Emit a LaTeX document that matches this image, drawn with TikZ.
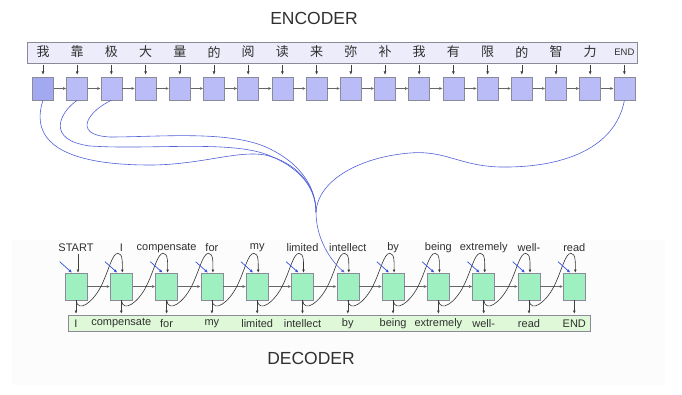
\documentclass[tikz,border=0pt]{standalone}
\usepackage{fontspec}
\setmainfont{Liberation Sans}
\newfontfamily\cjk{Noto Sans CJK SC}
\usetikzlibrary{arrows.meta,calc}
\definecolor{enccell}{HTML}{B9BCF6}
\definecolor{enccellA}{HTML}{A2A9F0}
\definecolor{inboxfill}{HTML}{ECECFA}
\definecolor{deccell}{HTML}{9EF0C0}
\definecolor{outfill}{HTML}{DFF9D8}
\definecolor{bordergray}{HTML}{8A8A98}
\definecolor{attn}{HTML}{3050E0}
\definecolor{attnline}{HTML}{5060D8}
\definecolor{txt}{HTML}{303030}
\tikzset{
  enccellstyle/.style={draw=bordergray, fill=enccell, minimum width=21pt, minimum height=23pt, inner sep=0pt, line width=0.6pt},
  deccellstyle/.style={draw=bordergray, fill=deccell, minimum width=22pt, minimum height=27pt, inner sep=0pt, line width=0.6pt},
  boxstyle/.style={draw=bordergray, inner sep=0pt, line width=0.6pt},
  lbl/.style={font=\fontsize{11}{13}\selectfont, text=txt, inner sep=1pt},
  zh/.style={font=\cjk\fontsize{13}{15}\selectfont, text=txt, inner sep=0pt},
  title/.style={font=\fontsize{17.5}{20}\selectfont, text=txt},
  tip/.style={-{Latex[length=3.2pt,width=2.8pt]}},
  harr/.style={tip, draw=black!60, line width=0.5pt},
  varr/.style={tip, draw=black!75, line width=0.5pt},
  fb/.style={tip, draw=black!80, line width=0.6pt},
  attnarr/.style={-{Latex[length=3.5pt,width=3pt]}, draw=attn, line width=0.7pt},
  attncurve/.style={draw=attnline, line width=0.6pt},
}
\begin{document}
\begin{tikzpicture}[x=1pt,y=-1pt]
\useasboundingbox (0,0) rectangle (682,395);
\fill[black!1] (12,240) rectangle (665,385);
% titles
\node[title] (enc) at (314,18) {ENCODER};
\node[title] (dec) at (311,358) {DECODER};
% encoder input box
\node[boxstyle, fill=inboxfill, minimum width=610pt, minimum height=21pt] (inbox) at (332,52.5) {};
\foreach \ch [count=\i] in {我,靠,极,大,量,的,阅,读,来,弥,补,我,有,限,的,智,力} {
  \pgfmathsetmacro\xx{43+34.2*(\i-1)}
  \node[zh] (c\i) at (\xx,52) {\ch};
}
\node[lbl, font=\fontsize{9.5}{11}\selectfont] (c18) at (624.4,52) {END};
% encoder cells
\foreach \i in {1,...,18} {
  \pgfmathsetmacro\xx{43+34.2*(\i-1)}
  \ifnum\i=1
    \node[enccellstyle, fill=enccellA] (e\i) at (\xx,88.5) {};
  \else
    \node[enccellstyle] (e\i) at (\xx,88.5) {};
  \fi
  \draw[varr, shorten <=1.5pt, shorten >=2pt] (inbox.south -| e\i) -- (e\i.north);
}
\foreach \i [evaluate=\i as \j using int(\i+1)] in {1,...,17} {
  \draw[harr] (e\i.east) -- (e\j.west);
}
% decoder cells
\foreach \w [count=\i] in {START,I,compensate,for,my,limited,intellect,by,being,extremely,well-,read} {
  \pgfmathsetmacro\xx{76+45.3*(\i-1)}
  \node[deccellstyle] (d\i) at (\xx,286.5) {};
  \node[lbl] (t\i) at (\xx,248) {\w};
}
% output box
\node[boxstyle, fill=outfill, minimum width=522pt, minimum height=16pt] (outbox) at (329,323) {};
\foreach \w [count=\i] in {I,compensate,for,my,limited,intellect,by,being,extremely,well-,read,END} {
  \pgfmathsetmacro\xx{76+45.3*(\i-1)}
  \node[lbl] (o\i) at (\xx,323.5) {\w};
  \draw[varr, shorten >=1pt] (d\i.south) -- (outbox.north -| d\i);
}
% horizontal decoder arrows
\foreach \i [evaluate=\i as \j using int(\i+1)] in {1,...,11} {
  \draw[harr] (d\i.east) -- (d\j.west);
}
% START input
\draw[varr, shorten <=1pt] (t1.south -| d1.north) ++(2,0) -- ($(d1.north)+(2,0)$);
% feedback curves
\foreach \i [evaluate=\i as \j using int(\i+1)] in {1,...,11} {
  \draw[fb] (d\i.south) .. controls +(2,13) and +(-8,16) .. ++(25,-14)
     .. controls +(8,-16) and +(-6,0) .. ++(17,-33)
     .. controls +(5,0) and +(0,-9) .. ($(d\j.north)+(1,0)$);
}
% short attention arrows
\foreach \i in {1,2,3,4,5,6,8,9,10,11,12} {
  \draw[attnarr] ($(d\i.north west)+(-5,-11)$) -- ($(d\i.north)+(-4,0)$);
}
% long attention curves
\coordinate (M) at (316,212);
\draw[attncurve] (e1.south) .. controls (30,140) and (60,165) .. (150,165)
   .. controls (200,165) and (238,150) .. (265,155)
   .. controls (296,162) and (316,185) .. (M);
\draw[attncurve] (e2.south) .. controls (60,112) and (45,140) .. (90,146)
   .. controls (150,150) and (230,140) .. (268,155)
   .. controls (296,166) and (316,185) .. (M);
\draw[attncurve] (e3.south) .. controls (90,110) and (70,135) .. (110,137)
   .. controls (160,137) and (230,130) .. (268,148)
   .. controls (298,162) and (316,185) .. (M);
\draw[attncurve] (e18.south) .. controls (615,150) and (560,168) .. (500,167)
   .. controls (460,166) and (445,150) .. (410,153)
   .. controls (360,157) and (318,180) .. (M);
\draw[attncurve, -{Latex[length=3.5pt,width=3pt]}] (M) .. controls (316,240) and (332,262) .. ($(d7.north)+(-3,0)$);
\end{tikzpicture}
\end{document}
